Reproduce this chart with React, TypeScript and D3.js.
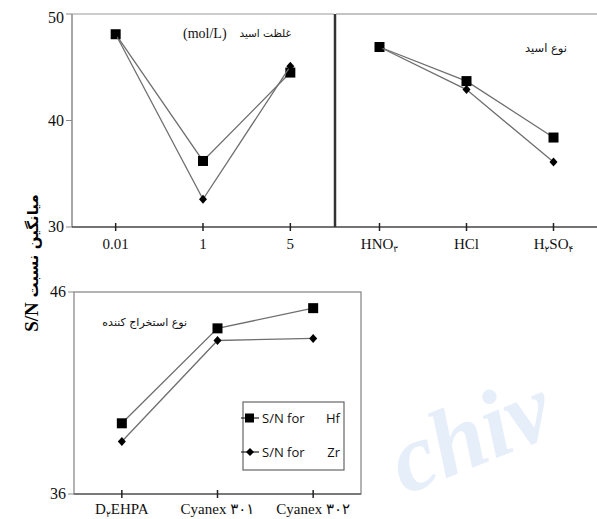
import React from 'react';
import * as d3 from 'd3';

// acid concentration panel
const concCats = ['0.01', '1', '5'];
const concHf = [48.1, 36.2, 44.5];
const concZr = [48.1, 32.6, 45.1];

// acid type panel
const acidCats = ['HNO۳', 'HCl', 'H۲SO۴'];
const acidHf = [46.9, 43.7, 38.4];
const acidZr = [46.9, 42.9, 36.1];

// extractant panel
const extCats = ['D۲EHPA', 'Cyanex ۳۰۱', 'Cyanex ۳۰۲'];
const extHf = [39.5, 44.2, 45.2];
const extZr = [38.6, 43.6, 43.7];

const topTicks = [30, 40, 50];
const bottomTicks = [36, 46];
const legendLabels = ['Hf', 'Zr'];

const SERIF = '"Liberation Serif", "Times New Roman", "DejaVu Sans", serif';
const LINE = '#6f6f6f';

// persian digit right after a latin letter is drawn as a subscript
const renderLabel = (s: string) => {
  const parts: React.ReactNode[] = [];
  let sub = false;
  for (let i = 0; i < s.length; i++) {
    const ch = s[i];
    const isFaDigit = ch >= '\u06F0' && ch <= '\u06F9';
    const prev = s[i - 1];
    const isSub = isFaDigit && prev !== undefined && /[A-Za-z]/.test(prev);
    if (isSub) {
      parts.push(<tspan key={i} fontSize={9} dy={2.5}>{ch}</tspan>);
      sub = true;
    } else if (sub) {
      parts.push(<tspan key={i} dy={-2.5}>{ch}</tspan>);
      sub = false;
    } else {
      parts.push(<tspan key={i}>{ch}</tspan>);
    }
  }
  return parts;
};

const Series = ({ cats, values, x, y, shape }: any) => {
  const line = d3.line<number>()
    .x((_, i) => x(cats[i]))
    .y(d => y(d));
  return (
    <g>
      <path d={line(values) || ''} fill="none" stroke={LINE} strokeWidth={1.3} />
      {values.map((v: number, i: number) => {
        const cx = x(cats[i]);
        const cy = y(v);
        return shape === 'square'
          ? <rect key={i} x={cx - 5} y={cy - 5} width={10} height={10} fill="#000" />
          : <path key={i} d={`M${cx},${cy - 4.5}L${cx + 4},${cy}L${cx},${cy + 4.5}L${cx - 4},${cy}Z`} fill="#000" />;
      })}
    </g>
  );
};

const XAxis = ({ cats, x, y0, labelY }: any) => (
  <g>
    {cats.map((c: string) => (
      <g key={c}>
        <line x1={x(c)} x2={x(c)} y1={y0 - 4} y2={y0 + 4} stroke="#222" strokeWidth={1.5} />
        <text x={x(c)} y={labelY} textAnchor="middle" fontFamily={SERIF} fontSize={15} fill="#111">
          {renderLabel(c)}
        </text>
      </g>
    ))}
  </g>
);

const YAxis = ({ ticks, y, x0, minY }: any) => (
  <g>
    {ticks.map((t: number) => (
      <g key={t}>
        <line x1={x0 - 6} x2={x0} y1={y(t)} y2={y(t)} stroke="#888" strokeWidth={1} />
        <text x={x0 - 8} y={Math.max(y(t), minY) + 5} textAnchor="end" fontFamily={SERIF} fontSize={16} fill="#111">
          {t}
        </text>
      </g>
    ))}
  </g>
);

export default function App() {
  const width = 597;
  const height = 519;

  const yTop = d3.scaleLinear().domain([30, 50]).range([227, 14]);
  const yBot = d3.scaleLinear().domain([36, 46]).range([494, 292]);

  const xConc = d3.scalePoint<string>().domain(concCats).range([72, 334]).padding(0.5);
  const xAcid = d3.scalePoint<string>().domain(acidCats).range([336, 597]).padding(0.5);
  const xExt = d3.scalePoint<string>().domain(extCats).range([74, 361]).padding(0.5);

  return (
    <div>
      <style>{'body{margin:0}'}</style>
      <svg width={width} height={height} style={{ display: 'block', background: '#fff' }}>
        {/* faint watermark */}
        <text x={405} y={495} transform="rotate(-22,405,495)" fontFamily={SERIF} fontStyle="italic" fontWeight="bold"
          fontSize={96} fill="#e6eef9">chiv</text>

        {/* top-left panel */}
        <line x1={72} x2={72} y1={14} y2={227} stroke="#8a8a8a" strokeWidth={1.5} />
        <line x1={72} x2={334} y1={14} y2={14} stroke="#9a9a9a" strokeWidth={1.2} />
        <line x1={72} x2={597} y1={227} y2={227} stroke="#444" strokeWidth={1.4} />
        <line x1={335} x2={335} y1={14} y2={227} stroke="#333" strokeWidth={2.5} />
        <line x1={336} x2={597} y1={14} y2={14} stroke="#8a8a8a" strokeWidth={1.2} />

        <YAxis ticks={topTicks} y={yTop} x0={72} minY={18} />
        <XAxis cats={concCats} x={xConc} y0={227} labelY={249} />
        <XAxis cats={acidCats} x={xAcid} y0={227} labelY={249} />

        <Series cats={concCats} values={concHf} x={xConc} y={yTop} shape="square" />
        <Series cats={concCats} values={concZr} x={xConc} y={yTop} shape="diamond" />
        <Series cats={acidCats} values={acidHf} x={xAcid} y={yTop} shape="square" />
        <Series cats={acidCats} values={acidZr} x={xAcid} y={yTop} shape="diamond" />

        <text x={183} y={38} fontFamily={SERIF} fontSize={14} fill="#111">(mol/L)</text>
        <text x={291} y={37} textAnchor="end" fontFamily="DejaVu Sans" fontSize={10.5} fill="#111">غلظت اسید</text>
        <text x={567} y={52} textAnchor="end" fontFamily="DejaVu Sans" fontSize={11.5} fill="#111">نوع اسید</text>

        {/* bottom panel */}
        <rect x={74} y={292} width={287} height={202} fill="none" stroke="#8a8a8a" strokeWidth={1.3} />
        <line x1={74} x2={361} y1={494} y2={494} stroke="#666" strokeWidth={1.4} />
        <YAxis ticks={bottomTicks} y={yBot} x0={74} minY={0} />
        <XAxis cats={extCats} x={xExt} y0={494} labelY={514} />
        <Series cats={extCats} values={extHf} x={xExt} y={yBot} shape="square" />
        <Series cats={extCats} values={extZr} x={xExt} y={yBot} shape="diamond" />
        <text x={187} y={326} textAnchor="end" fontFamily="DejaVu Sans" fontSize={11} fill="#111">نوع استخراج کننده</text>

        {/* legend */}
        <rect x={243} y={402} width={101} height={68} fill="#fff" stroke="#666" strokeWidth={1.2} />
        {legendLabels.map((lab, i) => {
          const ly = 418 + i * 34;
          return (
            <g key={lab}>
              <line x1={241} x2={259} y1={ly} y2={ly} stroke="#222" strokeWidth={1.2} />
              {i === 0
                ? <rect x={245} y={ly - 4.5} width={9} height={9} fill="#000" />
                : <path d={`M250,${ly - 4}L254,${ly}L250,${ly + 4}L246,${ly}Z`} fill="#000" />}
              <text x={262} y={ly + 5} fontFamily='"Open Sans", "Liberation Sans", sans-serif' fontSize={13} fill="#111">S/N for</text>
              <text x={340} y={ly + 5} textAnchor="end" fontFamily='"Open Sans", "Liberation Sans", sans-serif' fontSize={13} fill="#111">{lab}</text>
            </g>
          );
        })}

        {/* y-axis title */}
        <text transform="translate(38,263) rotate(-90)" textAnchor="middle" fontWeight="bold" fill="#000">
          <tspan fontFamily={SERIF} fontSize={19}>S/N </tspan>
          <tspan fontFamily="DejaVu Sans" fontSize={15}>میانگین نسبت</tspan>
        </text>
      </svg>
    </div>
  );
}
